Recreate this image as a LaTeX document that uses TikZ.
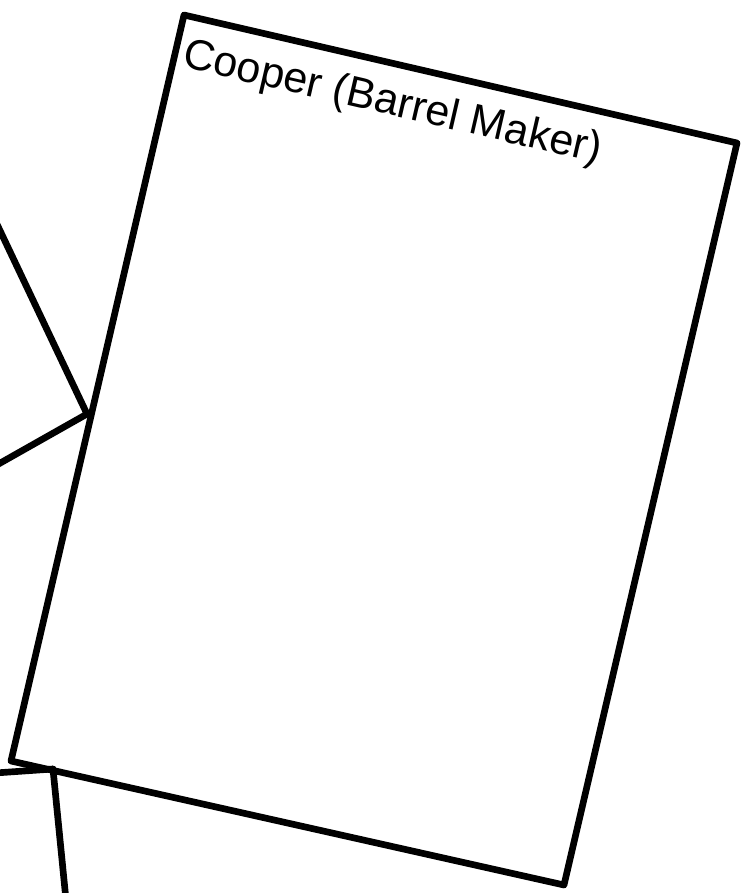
\documentclass[tikz,border=0pt]{standalone}
\usepackage{fontspec}
\setmainfont{Liberation Sans}
\usetikzlibrary{positioning}
\tikzset{
    cooperedge/.style={draw, line width=5pt, line join=round, line cap=round},
    cooperlabel/.style={inner sep=0pt, anchor=north west, rotate=-13, font=\fontsize{32.3}{38}\selectfont}
}
\begin{document}
\begin{tikzpicture}[x=0.75pt, y=-0.75pt]
    \useasboundingbox (0,0) rectangle (755,893);
    % corners of the shop
    \coordinate (topleft) at (184,15);
    \coordinate (topright) at (737,143);
    \coordinate (bottomright) at (564,885);
    \coordinate (bottomleft) at (11,761);
    \coordinate (joinleft) at (87,414);
    \coordinate (joinbottom) at (53,769);
    % loose ends off the page
    \coordinate (upperin) at (-5,220);
    \coordinate (lowerin) at (-5,466);
    \coordinate (bottomin) at (-5,773);
    \coordinate (bottomout) at (66,900);

    \draw[cooperedge] (topleft) -- (topright) -- (bottomright) -- (bottomleft) -- cycle;
    \node[cooperlabel] (cooper) at (188,36) {Cooper (Barrel Maker)};

    \draw[cooperedge] (upperin) -- (joinleft);
    \draw[cooperedge] (lowerin) -- (joinleft);
    \draw[cooperedge] (bottomin) -- (joinbottom);
    \draw[cooperedge] (joinbottom) -- (bottomout);
\end{tikzpicture}
\end{document}
